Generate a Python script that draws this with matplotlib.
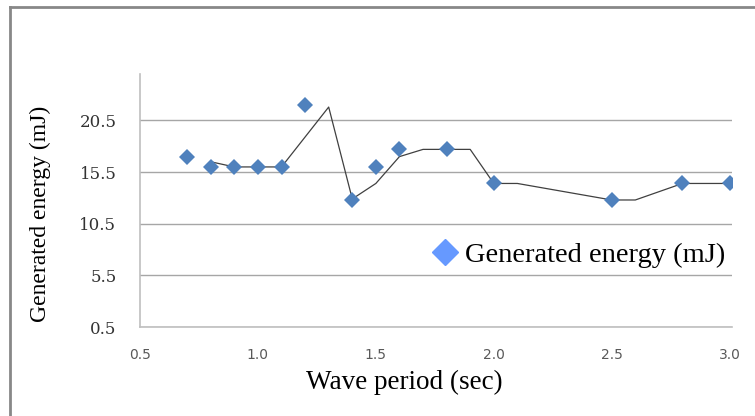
import matplotlib
matplotlib.use('Agg')
import matplotlib.pyplot as plt
from matplotlib.lines import Line2D

# measured points
period = [0.7, 0.8, 0.9, 1.0, 1.1, 1.2, 1.4, 1.5, 1.6, 1.8, 2.0, 2.5, 2.8, 3.0]
energy = [17.0, 16.0, 16.0, 16.0, 16.0, 22.0, 12.8, 16.0, 17.7, 17.7, 14.4, 12.8, 14.4, 14.4]

# trend line vertices as drawn in the chart
trend_x = [0.8, 0.9, 1.0, 1.1, 1.3, 1.4, 1.5, 1.6, 1.7, 1.9, 2.0, 2.1, 2.5, 2.6, 2.8, 3.0]
trend_y = [16.5, 16.0, 16.0, 16.0, 21.8, 12.9, 14.4, 17.0, 17.7, 17.7, 14.4, 14.4, 12.8, 12.8, 14.4, 14.4]

yticks = [0.5, 5.5, 10.5, 15.5, 20.5]
xticks = [0.5, 1.0, 1.5, 2.0, 2.5, 3.0]

fig = plt.figure(figsize=(7.55, 4.16), dpi=100)
ax = fig.add_axes([140 / 755, 1 - 327 / 416, 592 / 755, 253 / 416])

ax.plot(trend_x, trend_y, color='#404040', lw=0.9, zorder=2)
ax.plot(period, energy, 'D', color='#4F81BD', markersize=8, markeredgewidth=0, zorder=3)

ax.set_xlim(0.5, 3.01)
ax.set_ylim(0.5, 25)
ax.set_xticks(xticks)
ax.set_xticklabels(['%.1f' % v for v in xticks])
ax.set_yticks(yticks)
ax.set_yticklabels(['%.1f' % v for v in yticks], family='DejaVu Serif')
ax.tick_params(axis='x', length=0, labelsize=10, labelcolor='#595959', pad=15)
ax.tick_params(axis='y', length=0, labelsize=12, labelcolor='#333333', pad=17)
for s in ['top', 'right']:
    ax.spines[s].set_visible(False)
for s in ['left', 'bottom']:
    ax.spines[s].set_color('#BFBFBF')
    ax.spines[s].set_linewidth(1.2)
ax.yaxis.grid(True, color='#A6A6A6', lw=1)
ax.set_axisbelow(True)

fig.text(404 / 755, 1 - 382 / 416, 'Wave period (sec)', family='Liberation Serif',
         fontsize=19.5, ha='center', va='center')
fig.text(40 / 755, 1 - 214 / 416, 'Generated energy (mJ)', family='Liberation Serif',
         fontsize=17, rotation=90, ha='center', va='center')

proxy = Line2D([], [], marker='D', color='#6699FF', linestyle='none', markersize=13)
fig.legend([proxy], ['Generated energy (mJ)'], loc='center right',
           bbox_to_anchor=(725 / 755, 1 - 255 / 416), frameon=False,
           prop={'family': 'Liberation Serif', 'size': 20.5},
           handletextpad=0.1, borderaxespad=0, borderpad=0, handlelength=1.2)

# outer frame (top and left only)
fig.add_artist(Line2D([10 / 755, 1], [1 - 7 / 416, 1 - 7 / 416], color='#888888', lw=2))
fig.add_artist(Line2D([10 / 755, 10 / 755], [0, 1 - 7 / 416], color='#888888', lw=2))

fig.savefig('out.png', dpi=100)
